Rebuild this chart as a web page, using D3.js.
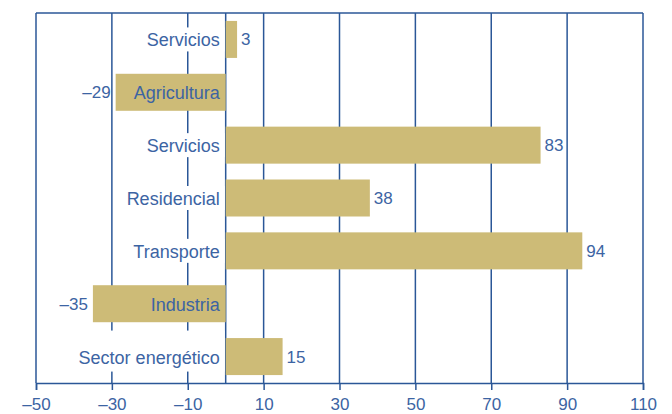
<!DOCTYPE html>
<html>
<head>
<meta charset="utf-8">
<script src="https://cdn.jsdelivr.net/npm/d3@7"></script>
<style>
  body { margin: 0; background: #fff; }
  text { font-family: "Liberation Sans", Arial, sans-serif; }
  .catLabel { fill: #3c64a3; font-size: 18px; }
  .valLabel { fill: #3c64a3; font-size: 17px; }
</style>
</head>
<body>
<svg id="chart-svg" width="672" height="414"></svg>
<script>
////////////////////////////////////////////////////////////////////////////////
// Data
var categories = ["Servicios", "Agricultura", "Servicios", "Residencial", "Transporte", "Industria", "Sector energético"];
var values = [3, -29, 83, 38, 94, -35, 15];
var tickValues = [-50, -30, -10, 10, 30, 50, 70, 90, 110];

////////////////////////////////////////////////////////////////////////////////
const svg = d3.select("#chart-svg");
var margin_left = 36, margin_right = 29, margin_top = 13, margin_bottom = 31;
var w = 672, h = 414;
var lineColor = "#2b5797";
var barColor = "#cdbb77";

var x = d3.scaleLinear()
    .domain([-50, 110])
    .range([margin_left, w - margin_right]);
var y = d3.scaleBand()
    .domain(d3.range(categories.length))
    .range([margin_top, h - margin_bottom])
    .paddingInner(0.3)
    .paddingOuter(0.15);

var data = categories.map(function(d, i) { return { cat: d, value: values[i], i: i }; });

// gridlines (incl. borders) and zero line
svg.append("g").selectAll("line")
    .data(tickValues.concat([0]))
    .enter()
    .append("line")
    .attr("x1", function(d) { return x(d); })
    .attr("x2", function(d) { return x(d); })
    .attr("y1", margin_top)
    .attr("y2", h - margin_bottom)
    .attr("stroke", lineColor)
    .attr("stroke-width", 1.5);
// top border
svg.append("line")
    .attr("x1", x(-50)).attr("x2", x(110))
    .attr("y1", margin_top).attr("y2", margin_top)
    .attr("stroke", lineColor)
    .attr("stroke-width", 1.5);

// bottom axis
var axis = svg.append("g")
    .attr("transform", "translate(0," + (h - margin_bottom) + ")")
    .call(d3.axisBottom(x)
      .tickValues(tickValues)
      .tickSize(7)
      .tickPadding(8)
      .tickFormat(function(d) { return d < 0 ? "\u2013" + Math.abs(d) : d; }));
axis.select(".domain").attr("stroke", lineColor).attr("stroke-width", 1.5);
axis.selectAll(".tick line").attr("stroke", lineColor).attr("stroke-width", 1.5);
axis.selectAll(".tick text").attr("font-size", 17).attr("fill", "#3c64a3");

// category labels (measured first, white boxes behind them hide gridlines)
var labelX = x(0) - 6;
var gLabels = svg.append("g");
var labels = data.map(function(d) {
  var t = gLabels.append("text")
      .attr("class", "catLabel")
      .attr("x", labelX)
      .attr("y", y(d.i) + y.bandwidth() / 2 + 7)
      .attr("text-anchor", "end")
      .text(d.cat);
  return t;
});
var gBoxes = svg.insert("g", function() { return gLabels.node(); });
labels.forEach(function(t, i) {
  var bb = t.node().getBBox();
  var last = i == categories.length - 1;
  gBoxes.append("rect")
      .attr("x", bb.x - 3)
      .attr("y", y(i) + y.bandwidth() / 2 - (last ? 26 : 12))
      .attr("width", x(0) - 1 - (bb.x - 3))
      .attr("height", last ? 41 : 24)
      .attr("fill", "#fff");
});

// bars
svg.insert("g", function() { return gLabels.node(); })
    .selectAll("rect")
    .data(data)
    .enter()
    .append("rect")
    .attr("x", function(d) { return x(Math.min(0, d.value)); })
    .attr("y", function(d) { return y(d.i); })
    .attr("width", function(d) { return Math.abs(x(d.value) - x(0)); })
    .attr("height", y.bandwidth())
    .attr("fill", barColor);

// value labels
svg.append("g").selectAll("text")
    .data(data)
    .enter()
    .append("text")
    .attr("class", "valLabel")
    .attr("x", function(d) { return d.value < 0 ? x(d.value) - 5 : x(d.value) + 4; })
    .attr("y", function(d) { return y(d.i) + y.bandwidth() / 2 + 6; })
    .attr("text-anchor", function(d) { return d.value < 0 ? "end" : "start"; })
    .text(function(d) { return d.value < 0 ? "\u2013" + Math.abs(d.value) : d.value; });
</script>
</body>
</html>
